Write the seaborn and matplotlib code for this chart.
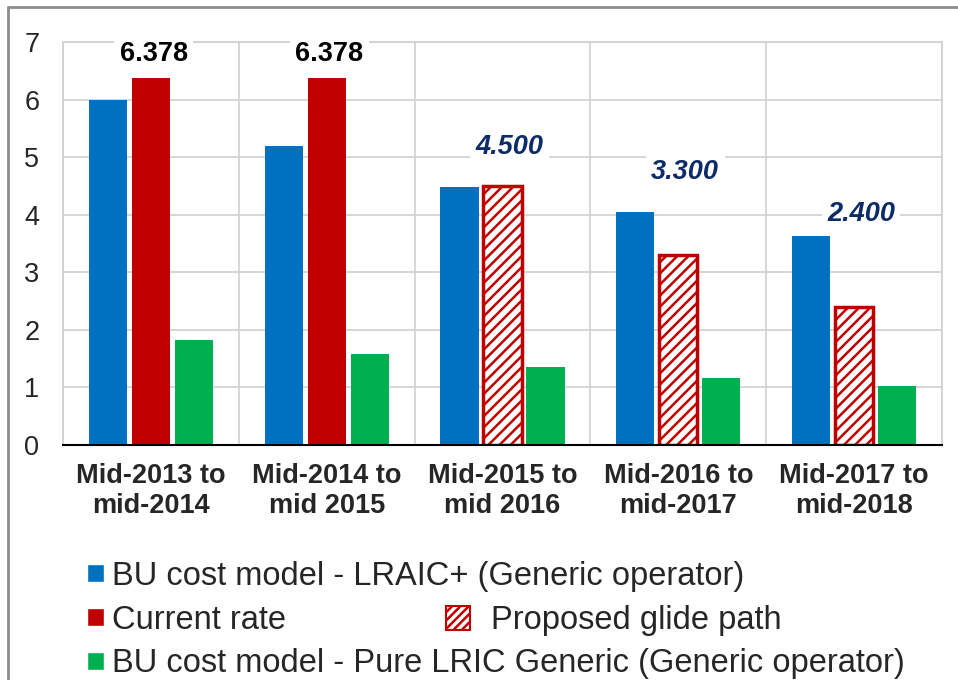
import numpy as np
import pandas as pd
import seaborn as sns
import matplotlib.pyplot as plt
from matplotlib.patches import Patch
from matplotlib.lines import Line2D

sns.set_style("white")
plt.rcParams['font.family'] = ['Liberation Sans', 'DejaVu Sans']
plt.rcParams['hatch.linewidth'] = 1.8
plt.rcParams['hatch.color'] = '#C00000'

# data
periods = ["Mid-2013 to\nmid-2014", "Mid-2014 to\nmid 2015", "Mid-2015 to\nmid 2016",
           "Mid-2016 to\nmid-2017", "Mid-2017 to\nmid-2018"]
lraic_plus = [5.99, 5.19, 4.49, 4.04, 3.63]
current_rate = [6.378, 6.378, 4.500, 3.300, 2.400]
pure_lric = [1.83, 1.58, 1.35, 1.17, 1.02]
series_names = ["BU cost model - LRAIC+ (Generic operator)",
                "Current rate",
                "BU cost model - Pure LRIC Generic (Generic operator)"]
glide_name = "Proposed glide path"
is_glide = [False, False, True, True, True]
rate_labels = ["6.378", "6.378", "4.500", "3.300", "2.400"]

BLUE, RED, GREEN, NAVY = "#0070C0", "#C00000", "#00B050", "#0D2B66"

df = pd.DataFrame({
    "period": periods * 3,
    "series": np.repeat(series_names, len(periods)),
    "value": lraic_plus + current_rate + pure_lric,
})

fig = plt.figure(figsize=(9.58, 6.8), dpi=100)
ax = fig.add_axes([63 / 958, 1 - 445 / 680, (942 - 63) / 958, (445 - 42) / 680])

sns.barplot(data=df, x="period", y="value", hue="series", hue_order=series_names,
            palette=[BLUE, RED, GREEN], saturation=1, width=0.733, gap=0.11,
            legend=False, ax=ax, linewidth=0)

# hatch the proposed glide path bars
for bar, glide in zip(ax.containers[1], is_glide):
    if glide:
        bar.set_facecolor("white")
        bar.set_edgecolor(RED)
        bar.set_linewidth(2.5)
        bar.set_hatch("///")

# value labels above the current-rate bars (offsets in points, hand-placed like the original)
label_offsets = [17, 17, 28, 60, 67]
for i, (val, txt, glide) in enumerate(zip(current_rate, rate_labels, is_glide)):
    bar = ax.containers[1][i]
    xc = bar.get_x() + bar.get_width() / 2
    ax.annotate(txt, (xc, val), xytext=(5 if glide else 2, label_offsets[i]),
                textcoords="offset points", ha="center", va="center",
                fontsize=19.5, fontweight="bold", fontstyle="italic" if glide else "normal",
                color=NAVY if glide else "black",
                bbox=dict(boxstyle="square,pad=0.2", facecolor="white", edgecolor="none"))

ax.set_ylim(0, 7)
ax.set_yticks(range(0, 8))
ax.set_xlim(-0.5, len(periods) - 0.5)
ax.set_xticks(np.arange(-0.5, len(periods)), minor=True)
ax.grid(axis="y", color="#D0D0D0", linewidth=1.2, zorder=0)
ax.grid(axis="x", which="minor", color="#D0D0D0", linewidth=1.2, zorder=0)
ax.set_axisbelow(True)
ax.set_xlabel("")
ax.set_ylabel("")
ax.tick_params(axis="y", length=0, pad=17, labelsize=19.5)
ax.tick_params(axis="x", which="both", length=0, pad=13, labelsize=19.5)
for lbl in ax.get_xticklabels():
    lbl.set_fontweight("bold")
for side in ["left", "right", "top"]:
    ax.spines[side].set_color("#D0D0D0")
    ax.spines[side].set_linewidth(1.2)
ax.spines["bottom"].set_color("black")
ax.spines["bottom"].set_linewidth(1.5)

# legend
handles = [Patch(facecolor=c) for c in (BLUE, RED, GREEN)]
fig.legend(handles, series_names, loc="upper left", bbox_to_anchor=(87 / 958, 1 - 561 / 680),
           frameon=False, fontsize=23.5, handlelength=0.52, handleheight=0.47,
           handletextpad=0.25, labelspacing=0.39, borderpad=0, borderaxespad=0)
fig.legend([Patch(facecolor="white", edgecolor=RED, hatch="////", linewidth=1.5)], [glide_name],
           loc="center left", bbox_to_anchor=(446 / 958, 1 - 621 / 680),
           frameon=False, fontsize=23.5, handlelength=0.72, handleheight=0.72,
           handletextpad=0.65, borderpad=0, borderaxespad=0)

# outer chart border (left and top visible)
top = 1 - 7 / 680
left = 8 / 958
fig.add_artist(Line2D([left, left], [0, top], color="#8C8C8C", linewidth=2, transform=fig.transFigure))
fig.add_artist(Line2D([left, 1], [top, top], color="#8C8C8C", linewidth=2, transform=fig.transFigure))

fig.savefig("out.png", dpi=100, facecolor="white")
